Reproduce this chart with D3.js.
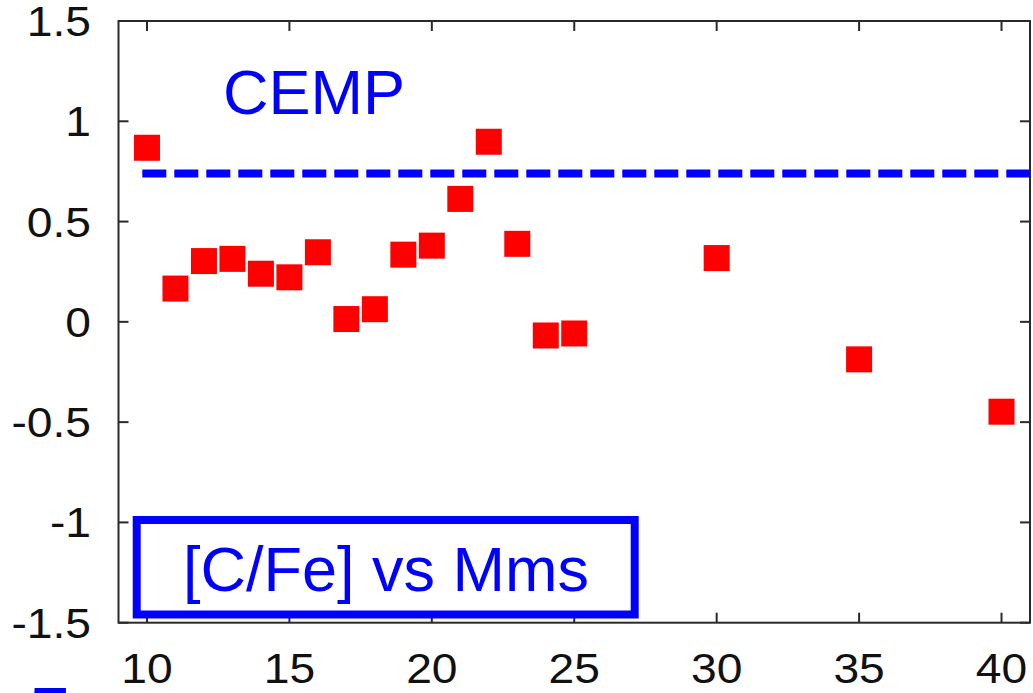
<!DOCTYPE html>
<html>
<head>
<meta charset="utf-8">
<script src="https://cdn.jsdelivr.net/npm/d3@7"></script>
<style>
  html, body { margin: 0; padding: 0; background: #fff; }
  svg { display: block; }
  text { font-family: "Liberation Sans", Arial, Helvetica, sans-serif; }
</style>
</head>
<body>
<svg id="chart" width="1033" height="693"></svg>
<script>
// Initial main-sequence mass (Msun) and surface carbon enhancement [C/Fe]
const massMs = [10, 11, 12, 13, 14, 15, 16, 17, 18, 19, 20, 21, 22, 23, 24, 25, 30, 35, 40];
const cFe = [0.868, 0.166, 0.303, 0.314, 0.240, 0.222, 0.347, 0.014, 0.063, 0.335, 0.380, 0.613, 0.898, 0.389, -0.068, -0.058, 0.318, -0.187, -0.448];

// CEMP threshold
const cempLevel = [0.74];

// Axis ticks
const xTicks = [10, 15, 20, 25, 30, 35, 40];
const yTicks = [-1.5, -1, -0.5, 0, 0.5, 1, 1.5];
const yTickLabels = ["-1.5", "-1", "-0.5", "0", "0.5", "1", "1.5"];

const svg = d3.select("#chart");

const plot = { left: 118.5, right: 1030, top: 21, bottom: 622.7 };

const x = d3.scaleLinear().domain([9, 41]).range([plot.left, plot.right]);
const y = d3.scaleLinear().domain([-1.5, 1.5]).range([plot.bottom, plot.top]);

const tickLen = 10;
const frameColor = "#2a2a2a";

// Inward ticks on all four sides
const g = svg.append("g");
g.selectAll("line.xb").data(xTicks).join("line")
  .attr("x1", d => x(d)).attr("x2", d => x(d))
  .attr("y1", plot.bottom).attr("y2", plot.bottom - tickLen)
  .attr("stroke", frameColor).attr("stroke-width", 2);
g.selectAll("line.xt").data(xTicks).join("line")
  .attr("x1", d => x(d)).attr("x2", d => x(d))
  .attr("y1", plot.top).attr("y2", plot.top + tickLen)
  .attr("stroke", frameColor).attr("stroke-width", 2);
g.selectAll("line.yl").data(yTicks).join("line")
  .attr("x1", plot.left).attr("x2", plot.left + tickLen)
  .attr("y1", d => y(d)).attr("y2", d => y(d))
  .attr("stroke", frameColor).attr("stroke-width", 2);
g.selectAll("line.yr").data(yTicks).join("line")
  .attr("x1", plot.right).attr("x2", plot.right - tickLen)
  .attr("y1", d => y(d)).attr("y2", d => y(d))
  .attr("stroke", frameColor).attr("stroke-width", 2);

// Frame
svg.append("rect")
  .attr("x", plot.left).attr("y", plot.top)
  .attr("width", plot.right - plot.left).attr("height", plot.bottom - plot.top)
  .attr("fill", "none").attr("stroke", frameColor).attr("stroke-width", 2);

// Tick labels (slightly wide digits)
const tickFont = 42;
const stretch = 1.1;
svg.append("g").selectAll("text").data(xTicks).join("text")
  .attr("transform", d => `translate(${x(d)},683) scale(${stretch},1)`)
  .attr("text-anchor", "middle")
  .attr("font-size", tickFont)
  .attr("fill", "#111")
  .text(d => d);

svg.append("g").selectAll("text").data(yTicks).join("text")
  .attr("transform", (d, i) => `translate(91,${y(d) + 0.716 * tickFont / 2}) scale(${stretch},1)`)
  .attr("text-anchor", "end")
  .attr("font-size", tickFont)
  .attr("fill", "#111")
  .text((d, i) => yTickLabels[i]);

// CEMP threshold (dashed)
svg.append("g").selectAll("line").data(cempLevel).join("line")
  .attr("x1", 142.3).attr("x2", plot.right)
  .attr("y1", d => y(d)).attr("y2", d => y(d))
  .attr("stroke", "#0000ff").attr("stroke-width", 8)
  .attr("stroke-dasharray", "24,8");

// Data points: red squares
const sq = 26;
svg.append("g").selectAll("rect").data(massMs.map((m, i) => [m, cFe[i]])).join("rect")
  .attr("x", d => x(d[0]) - sq / 2)
  .attr("y", d => y(d[1]) - sq / 2)
  .attr("width", sq).attr("height", sq)
  .attr("fill", "#ff0000");

// Annotations
svg.append("text")
  .attr("x", 223).attr("y", 114)
  .attr("font-size", 63)
  .attr("fill", "#0000ff")
  .text("CEMP");

svg.append("rect")
  .attr("x", 136.7).attr("y", 520)
  .attr("width", 498).attr("height", 94.5)
  .attr("fill", "#fff")
  .attr("stroke", "#0000ff").attr("stroke-width", 8);

svg.append("text")
  .attr("x", 386).attr("y", 590.5)
  .attr("text-anchor", "middle")
  .attr("font-size", 63)
  .attr("fill", "#0000ff")
  .text("[C/Fe] vs Mms");

// Panel label running off the bottom edge
svg.append("text")
  .attr("x", 28).attr("y", 743)
  .attr("font-size", 80)
  .attr("fill", "#0000ff")
  .text("5");
</script>
</body>
</html>
